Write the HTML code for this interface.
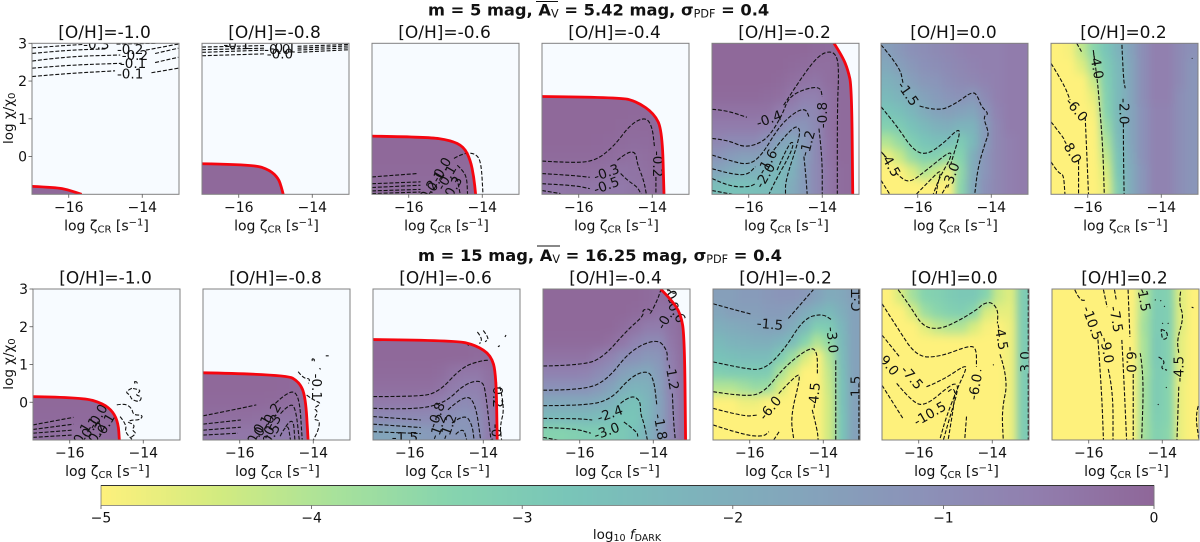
<!DOCTYPE html>
<html lang="en">
<head>
<meta charset="utf-8">
<title>fDARK maps</title>
<style>
html,body{margin:0;padding:0;background:#fff;width:1200px;height:542px;overflow:hidden}
svg{display:block}
text{font-family:"DejaVu Sans","Liberation Sans",sans-serif;fill:#111}
</style>
</head>
<body>
<svg id="figure" width="1200" height="542" viewBox="0 0 1200 542" xmlns="http://www.w3.org/2000/svg">
  <text x="428" y="15.5" font-size="16.3" font-weight="bold">m = 5 mag, <tspan>A</tspan><tspan font-size="11.2" dy="2" font-weight="normal">V</tspan><tspan dy="-2"> = 5.42 mag, σ</tspan><tspan font-size="11.2" dy="2" font-weight="normal">PDF</tspan><tspan dy="-2"> = 0.4</tspan></text>
  <line x1="536" x2="558" y1="1.5" y2="1.5" stroke="#111" stroke-width="1"/>
  <text x="418" y="261" font-size="16.3" font-weight="bold">m = 15 mag, <tspan>A</tspan><tspan font-size="11.2" dy="2" font-weight="normal">V</tspan><tspan dy="-2"> = 16.25 mag, σ</tspan><tspan font-size="11.2" dy="2" font-weight="normal">PDF</tspan><tspan dy="-2"> = 0.4</tspan></text>
  <line x1="537" x2="560" y1="246" y2="246" stroke="#111" stroke-width="1"/>
  <g id="panels"></g>
  <g id="colorbar"></g>
  <text x="627" y="539" font-size="13.5" text-anchor="middle">log<tspan font-size="9.5" dy="2">10</tspan><tspan dy="-2"> </tspan><tspan font-style="italic">f</tspan><tspan font-size="9.5" dy="2">DARK</tspan></text>
</svg>
<script>
const metallicityLabels = ["[O/H]=-1.0","[O/H]=-0.8","[O/H]=-0.6","[O/H]=-0.4","[O/H]=-0.2","[O/H]=0.0","[O/H]=0.2"];
const zetaTicks = [-16,-14];
const chiTicks = [0,1,2,3];
const colorbarTicks = [-5,-4,-3,-2,-1,0];

// log10 fDARK, rows from log chi = 2.8 down to -0.8, columns from log zeta = -16.83 to -13.17
const heatA1 = [
[-.05,-.05,-.05,-.05,-.05,-.05,-.05,-.05,-.05,-.05,-.05,-.05],
[-.05,-.05,-.05,-.05,-.05,-.05,-.05,-.05,-.05,-.05,-.05,-.05],
[-.05,-.05,-.05,-.05,-.05,-.05,-.05,-.05,-.05,-.05,-.05,-.05],
[-.05,-.05,-.05,-.05,-.05,-.05,-.05,-.05,-.05,-.05,-.05,-.05],
[-.05,-.05,-.05,-.05,-.05,-.05,-.05,-.05,-.05,-.05,-.05,-.05],
[-.05,-.05,-.05,-.05,-.05,-.05,-.05,-.05,-.05,-.05,-.05,-.05],
[-.05,-.05,-.05,-.05,-.05,-.05,-.05,-.05,-.05,-.05,-.05,-.05],
[-.05,-.05,-.05,-.05,-.05,-.05,-.05,-.05,-.05,-.05,-.05,-.05],
[-.05,-.05,-.05,-.05,-.05,-.05,-.05,-.05,-.05,-.05,-.05,-.05],
[-.05,-.05,-.05,-.05,-.05,-.05,-.05,-.05,-.05,-.05,-.05,-.05]];
const heatA2 = [
[-.05,-.05,-.05,-.05,-.05,-.05,-.05,-.05,-.05,-.05,-.05,-.05],
[-.05,-.05,-.05,-.05,-.05,-.05,-.05,-.05,-.05,-.05,-.05,-.05],
[-.05,-.05,-.05,-.05,-.05,-.05,-.05,-.05,-.05,-.05,-.05,-.05],
[-.05,-.05,-.05,-.05,-.05,-.05,-.05,-.05,-.05,-.05,-.05,-.05],
[-.05,-.05,-.05,-.05,-.05,-.05,-.05,-.05,-.05,-.05,-.05,-.05],
[-.05,-.05,-.05,-.05,-.05,-.05,-.05,-.05,-.05,-.05,-.05,-.05],
[-.05,-.05,-.05,-.05,-.05,-.05,-.05,-.05,-.05,-.05,-.05,-.05],
[-.05,-.05,-.05,-.05,-.05,-.05,-.05,-.05,-.05,-.05,-.05,-.05],
[-.05,-.05,-.05,-.05,-.05,-.05,-.05,-.05,-.05,-.05,-.05,-.05],
[-.06,-.06,-.06,-.06,-.06,-.06,-.06,-.06,-.05,-.05,-.05,-.05]];
const heatA3 = [
[-.05,-.05,-.05,-.05,-.05,-.05,-.05,-.05,-.05,-.05,-.05,-.05],
[-.05,-.05,-.05,-.05,-.05,-.05,-.05,-.05,-.05,-.05,-.05,-.05],
[-.05,-.05,-.05,-.05,-.05,-.05,-.05,-.05,-.05,-.05,-.05,-.05],
[-.05,-.05,-.05,-.05,-.05,-.05,-.05,-.05,-.05,-.05,-.05,-.05],
[-.05,-.05,-.05,-.05,-.05,-.05,-.05,-.05,-.05,-.05,-.05,-.05],
[-.05,-.05,-.05,-.05,-.05,-.05,-.05,-.05,-.05,-.05,-.05,-.05],
[-.05,-.05,-.05,-.05,-.05,-.05,-.05,-.05,-.05,-.05,-.05,-.05],
[-.05,-.05,-.05,-.05,-.05,-.05,-.05,-.05,-.05,-.05,-.05,-.05],
[-.07,-.07,-.07,-.07,-.07,-.07,-.07,-.07,-.06,-.05,-.05,-.05],
[-.12,-.12,-.12,-.12,-.12,-.12,-.12,-.1,-.07,-.05,-.05,-.05]];
const heatA4 = [
[-.05,-.05,-.05,-.05,-.05,-.05,-.05,-.05,-.05,-.05,-.05,-.05],
[-.05,-.05,-.05,-.05,-.05,-.05,-.05,-.05,-.05,-.05,-.05,-.05],
[-.05,-.05,-.05,-.05,-.05,-.05,-.05,-.05,-.05,-.05,-.05,-.05],
[-.05,-.05,-.05,-.05,-.05,-.05,-.05,-.05,-.05,-.05,-.05,-.05],
[-.05,-.05,-.05,-.05,-.05,-.05,-.05,-.06,-.06,-.05,-.05,-.05],
[-.05,-.05,-.05,-.05,-.05,-.05,-.07,-.1,-.08,-.05,-.05,-.05],
[-.05,-.05,-.05,-.05,-.06,-.08,-.12,-.16,-.14,-.06,-.05,-.05],
[-.1,-.1,-.1,-.1,-.11,-.15,-.2,-.24,-.2,-.08,-.05,-.05],
[-.2,-.2,-.2,-.2,-.22,-.28,-.34,-.32,-.24,-.1,-.05,-.05],
[-.4,-.4,-.36,-.36,-.4,-.44,-.44,-.36,-.26,-.12,-.05,-.05]];
const heatA5 = [
[-.05,-.05,-.05,-.05,-.05,-.05,-.05,-.05,-.1,-.15,-.1,-.1],
[-.05,-.05,-.05,-.05,-.05,-.05,-.1,-.15,-.2,-.2,-.1,-.1],
[-.05,-.05,-.05,-.05,-.05,-.1,-.2,-.3,-.35,-.2,-.1,-.1],
[-.1,-.1,-.1,-.1,-.15,-.2,-.4,-.6,-.6,-.3,-.1,-.1],
[-.3,-.3,-.3,-.3,-.3,-.5,-.7,-.9,-.8,-.3,-.1,-.1],
[-.5,-.5,-.5,-.5,-.6,-.9,-1.2,-1.2,-.9,-.3,-.1,-.1],
[-.8,-.9,-.9,-.9,-1.2,-1.6,-1.8,-1.4,-.9,-.35,-.1,-.1],
[-1.2,-1.4,-1.5,-1.5,-1.7,-2.1,-2.2,-1.5,-.9,-.35,-.1,-.1],
[-1.7,-1.9,-2.1,-2.1,-2.3,-2.4,-2.1,-1.4,-.9,-.4,-.15,-.1],
[-2.6,-2.7,-2.7,-2.6,-2.5,-2.4,-1.9,-1.4,-.9,-.4,-.15,-.1]];
const heatA6 = [
[-1.5,-1.3,-1.1,-1,-.9,-.8,-.7,-.6,-.6,-.6,-.5,-.5],
[-1.8,-1.5,-1.3,-1.1,-1,-.9,-.8,-.7,-.6,-.6,-.5,-.5],
[-2.1,-1.9,-1.5,-1.3,-1.2,-1,-.9,-.8,-.7,-.6,-.5,-.5],
[-2.4,-2.2,-1.9,-1.6,-1.4,-1.2,-1.1,-1.3,-.9,-.6,-.5,-.5],
[-2.8,-2.6,-2.3,-1.9,-1.6,-1.5,-1.6,-1.7,-1.2,-.7,-.5,-.5],
[-3.2,-3,-2.7,-2.4,-2.1,-2,-2.2,-2.2,-1.4,-.8,-.5,-.5],
[-4,-3.6,-3.1,-2.8,-2.6,-2.6,-3,-2.4,-1.4,-.8,-.6,-.5],
[-4.8,-4.3,-3.6,-3.2,-3.2,-3.5,-3.3,-2,-1.2,-.8,-.6,-.5],
[-5,-5,-4.6,-4,-4.3,-4.8,-3.5,-1.9,-1.2,-.8,-.6,-.5],
[-5,-5,-5,-5,-5,-5,-3.4,-1.8,-1.1,-.8,-.6,-.5]];
const heatA7 = [
[-5,-4.9,-4.2,-3.4,-2.8,-2.2,-1.6,-1,-.6,-.6,-.9,-1.1],
[-5,-5,-4.6,-3.8,-3,-2.4,-1.7,-1,-.6,-.6,-.9,-1.2],
[-5,-5,-5,-4.3,-3.1,-2.4,-1.7,-1,-.6,-.6,-.9,-1.2],
[-5,-5,-5,-4.7,-3.2,-2.4,-1.7,-1,-.6,-.6,-1,-1.2],
[-5,-5,-5,-4.9,-3.3,-2.4,-1.7,-1.1,-.7,-.7,-1,-1.2],
[-5,-5,-5,-5,-3.6,-2.4,-1.7,-1.1,-.7,-.7,-1,-1.2],
[-5,-5,-5,-5,-3.9,-2.5,-1.7,-1.1,-.7,-.7,-1,-1.2],
[-5,-5,-5,-5,-4.2,-2.7,-1.8,-1.1,-.7,-.7,-1,-1.2],
[-5,-5,-5,-5,-4.5,-2.8,-1.9,-1.2,-.7,-.7,-1,-1.2],
[-5,-5,-5,-5,-4.7,-3,-1.9,-1.2,-.7,-.7,-1,-1.2]];
const heatB1 = [
[-.05,-.05,-.05,-.05,-.05,-.05,-.05,-.05,-.05,-.05,-.05,-.05],
[-.05,-.05,-.05,-.05,-.05,-.05,-.05,-.05,-.05,-.05,-.05,-.05],
[-.05,-.05,-.05,-.05,-.05,-.05,-.05,-.05,-.05,-.05,-.05,-.05],
[-.05,-.05,-.05,-.05,-.05,-.05,-.05,-.05,-.05,-.05,-.05,-.05],
[-.05,-.05,-.05,-.05,-.05,-.05,-.05,-.05,-.05,-.05,-.05,-.05],
[-.05,-.05,-.05,-.05,-.05,-.05,-.05,-.05,-.05,-.05,-.05,-.05],
[-.05,-.05,-.05,-.05,-.05,-.05,-.05,-.05,-.05,-.05,-.05,-.05],
[-.05,-.05,-.05,-.05,-.05,-.05,-.05,-.05,-.05,-.05,-.05,-.05],
[-.08,-.08,-.08,-.08,-.08,-.08,-.06,-.05,-.05,-.05,-.05,-.05],
[-.2,-.2,-.2,-.2,-.18,-.12,-.08,-.05,-.05,-.05,-.05,-.05]];
const heatB2 = [
[-.05,-.05,-.05,-.05,-.05,-.05,-.05,-.05,-.05,-.05,-.05,-.05],
[-.05,-.05,-.05,-.05,-.05,-.05,-.05,-.05,-.05,-.05,-.05,-.05],
[-.05,-.05,-.05,-.05,-.05,-.05,-.05,-.05,-.05,-.05,-.05,-.05],
[-.05,-.05,-.05,-.05,-.05,-.05,-.05,-.05,-.05,-.05,-.05,-.05],
[-.05,-.05,-.05,-.05,-.05,-.05,-.05,-.05,-.05,-.05,-.05,-.05],
[-.05,-.05,-.05,-.05,-.05,-.05,-.05,-.05,-.05,-.05,-.05,-.05],
[-.05,-.05,-.05,-.05,-.05,-.05,-.06,-.08,-.07,-.05,-.05,-.05],
[-.08,-.08,-.08,-.08,-.08,-.1,-.14,-.18,-.12,-.05,-.05,-.05],
[-.2,-.2,-.2,-.2,-.22,-.28,-.34,-.34,-.18,-.05,-.05,-.05],
[-.42,-.42,-.4,-.4,-.42,-.46,-.52,-.44,-.22,-.05,-.05,-.05]];
const heatB3 = [
[-.05,-.05,-.05,-.05,-.05,-.05,-.05,-.05,-.05,-.05,-.05,-.05],
[-.05,-.05,-.05,-.05,-.05,-.05,-.05,-.05,-.05,-.05,-.05,-.05],
[-.05,-.05,-.05,-.05,-.05,-.05,-.05,-.05,-.05,-.05,-.05,-.05],
[-.05,-.05,-.05,-.05,-.05,-.05,-.05,-.05,-.05,-.05,-.05,-.05],
[-.05,-.05,-.05,-.05,-.05,-.05,-.05,-.05,-.1,-.1,-.05,-.05],
[-.1,-.1,-.1,-.1,-.1,-.15,-.3,-.4,-.4,-.25,-.1,-.1],
[-.2,-.2,-.2,-.2,-.2,-.3,-.5,-.6,-.6,-.3,-.1,-.1],
[-.45,-.45,-.45,-.45,-.5,-.6,-.8,-.9,-.8,-.4,-.15,-.1],
[-.9,-.9,-.9,-.9,-.9,-1,-1.1,-1.2,-1,-.5,-.15,-.1],
[-1.7,-1.7,-1.6,-1.5,-1.4,-1.4,-1.3,-1.3,-1.1,-.5,-.15,-.1]];
const heatB4 = [
[-.05,-.05,-.05,-.05,-.05,-.05,-.05,-.05,-.1,-.2,-.1,-.1],
[-.05,-.05,-.05,-.05,-.05,-.05,-.05,-.1,-.15,-.3,-.3,-.1],
[-.05,-.05,-.05,-.05,-.05,-.05,-.15,-.3,-.5,-.5,-.3,-.1],
[-.1,-.1,-.1,-.1,-.1,-.2,-.4,-.7,-.9,-.9,-.4,-.1],
[-.3,-.3,-.3,-.3,-.5,-.7,-1,-1.1,-1.3,-1.2,-.5,-.15],
[-.65,-.65,-.65,-.7,-.9,-1.1,-1.5,-1.7,-1.8,-1.4,-.6,-.15],
[-1.1,-1.1,-1.1,-1.1,-1.3,-1.6,-2,-2.2,-2.1,-1.5,-.7,-.2],
[-1.8,-1.8,-1.8,-1.8,-1.9,-2.1,-2.5,-2.7,-2.3,-1.6,-.8,-.2],
[-2.4,-2.4,-2.4,-2.4,-2.5,-2.6,-2.8,-2.8,-2.3,-1.6,-.8,-.2],
[-3.3,-3.3,-3.2,-3.1,-3.1,-3,-2.9,-2.7,-2.1,-1.5,-.8,-.2]];
const heatB5 = [
[-1.5,-1.5,-1.4,-1.4,-1.3,-1.2,-1.2,-1.3,-1.6,-1.9,-1.8,-1.5],
[-1.7,-1.5,-1.5,-1.5,-1.4,-1.4,-1.5,-1.9,-2.2,-2.4,-2,-1.6],
[-2,-1.9,-1.8,-1.7,-1.6,-1.6,-1.9,-2.4,-3.1,-3,-2.3,-1.6],
[-2.4,-2.2,-2.1,-2,-2,-2.2,-2.5,-3.3,-4,-3.5,-2.4,-1.6],
[-2.7,-2.6,-2.5,-2.5,-2.5,-3,-3.7,-4.5,-5,-4,-2.5,-1.6],
[-3.1,-3,-3,-3,-3,-3.9,-4.5,-5,-5,-4.2,-2.6,-1.6],
[-4,-4,-3.8,-3.6,-3.7,-4.5,-5,-5,-5,-4.3,-2.7,-1.6],
[-5,-5,-4.8,-4.8,-5,-5,-5,-5,-5,-4.4,-2.7,-1.6],
[-5,-5,-5,-5,-5,-5,-5,-5,-5,-4.4,-2.8,-1.6],
[-5,-5,-5,-5,-5,-5,-5,-5,-5,-4.4,-2.8,-1.6]];
const heatB6 = [
[-5,-4.5,-3.8,-3.3,-3.2,-3,-2.9,-2.9,-3.3,-4.3,-4.6,-3],
[-5,-5,-4.5,-3.7,-3.4,-3.2,-3.1,-3.4,-4.5,-4.7,-4.7,-3],
[-5,-5,-5,-4.6,-4.2,-4,-4,-4.5,-4.9,-5,-4.8,-3],
[-5,-5,-5,-5,-5,-5,-5,-5,-5,-5,-4.8,-3],
[-5,-5,-5,-5,-5,-5,-5,-5,-5,-5,-4.8,-3],
[-5,-5,-5,-5,-5,-5,-5,-5,-5,-5,-4.8,-3],
[-5,-5,-5,-5,-5,-5,-5,-5,-5,-5,-4.8,-3],
[-5,-5,-5,-5,-5,-5,-5,-5,-5,-5,-4.8,-3],
[-5,-5,-5,-5,-5,-5,-5,-5,-5,-5,-4.8,-3],
[-5,-5,-5,-5,-5,-5,-5,-5,-5,-5,-4.8,-3]];
const heatB7 = [
[-5,-5,-5,-5,-5,-5,-5,-4,-3.1,-3.2,-4.6,-5],
[-5,-5,-5,-5,-5,-5,-5,-3.9,-3,-3.1,-4.6,-5],
[-5,-5,-5,-5,-5,-5,-5,-3.8,-3,-3.1,-4.6,-5],
[-5,-5,-5,-5,-5,-5,-5,-3.9,-2.9,-3.2,-4.7,-5],
[-5,-5,-5,-5,-5,-5,-5,-3.9,-2.9,-3.2,-4.7,-5],
[-5,-5,-5,-5,-5,-5,-5,-3.9,-3,-3.2,-4.7,-5],
[-5,-5,-5,-5,-5,-5,-5,-3.8,-3,-3.3,-4.8,-5],
[-5,-5,-5,-5,-5,-5,-5,-3.8,-3,-3.3,-4.8,-5],
[-5,-5,-5,-5,-5,-5,-5,-3.8,-3.1,-3.3,-4.8,-5],
[-5,-5,-5,-5,-5,-5,-5,-3.8,-3.2,-3.4,-4.8,-5]];

// red f = 1 boundary as [log zeta, log chi]; panels without an entry have none
const boundaryA1 = [[-17,-.79],[-16.34,-.82],[-16.02,-.88],[-15.65,-1]];
const boundaryA2 = [[-17,-.19],[-15.6,-.21],[-15.15,-.36],[-14.92,-.58],[-14.84,-.81],[-14.79,-1]];
const boundaryA3 = [[-17,.54],[-15.5,.52],[-14.86,.43],[-14.5,.26],[-14.32,-.1],[-14.23,-.54],[-14.18,-1]];
const boundaryA4 = [[-17,1.59],[-14.86,1.57],[-14.41,1.45],[-13.95,1.14],[-13.73,.7],[-13.68,-1]];
const boundaryA5 = [[-13.68,3],[-13.45,2.65],[-13.3,2.29],[-13.2,1.85],[-13.17,-1]];
const boundaryB1 = [[-17,.15],[-15.66,.13],[-15.1,-.03],[-14.82,-.25],[-14.68,-.56],[-14.65,-1]];
const boundaryB2 = [[-17,.78],[-14.75,.74],[-14.38,.54],[-14.21,.15],[-14.14,-1]];
const boundaryB3 = [[-17,1.66],[-14.77,1.64],[-14.2,1.51],[-13.79,1.25],[-13.65,.76],[-13.62,-1]];
const boundaryB4 = [[-13.8,3],[-13.53,2.74],[-13.25,2.35],[-13.15,1.73],[-13.12,-1]];

// dashed contour levels as lists of [log zeta, log chi]
const contoursA1 = [
[[-17,2.12],[-16.06,2.2],[-14.74,2.27]],[[-13.75,2.22],[-13.02,2.34]],
[[-17,2.34],[-16.06,2.42],[-14.56,2.47]],[[-13.65,2.49],[-13.02,2.63]],
[[-17,2.53],[-16.06,2.65],[-14.6,2.69]],[[-13.65,2.73],[-13.02,2.87]],
[[-17,2.73],[-16.06,2.82],[-15,2.85]],[[-13.9,2.82],[-13.02,2.98]],
[[-17,2.88],[-16.1,2.94],[-15.6,2.97]],[[-14.7,2.98],[-13.6,3]]];
const contoursA2 = [
[[-17,2.67],[-15.3,2.72]],[[-14.4,2.76],[-13,2.83]],
[[-17,2.76],[-15.3,2.82]],[[-14.4,2.82],[-13,2.88]],
[[-17,2.83],[-15.3,2.87]],[[-14.4,2.87],[-13,2.93]],
[[-17,2.9],[-15.3,2.94]],[[-14.4,2.92],[-13,2.97]]];
const contoursA3 = [
[[-14.77,-.05],[-14.5,.1],[-14.18,.08],[-14.03,-.14],[-13.98,-1]],
[[-14.68,-.23],[-14.55,-.35],[-14.42,-.55],[-14.4,-1]],
[[-14.85,-.6],[-14.7,-.5],[-14.65,-.75],[-14.6,-1]],
[[-17,-.54],[-15.77,-.45]],[[-17,-.72],[-15.68,-.67]],[[-17,-.82],[-15.68,-.76]],[[-17,-.91],[-15.68,-.87]],[[-17,-.98],[-15.68,-.94]]];
const contoursA4 = [
[[-17,-.12],[-16.32,-.16],[-15.59,-.14],[-15.05,.26],[-14.59,.86],[-14.18,1.05],[-14,.79],[-13.94,.26]],[[-13.9,-.54],[-13.9,-1]],
[[-17,-.45],[-16.14,-.5],[-15.7,-.55]],[[-14.95,-.1],[-14.68,.12],[-14.45,.12],[-14.41,-.19],[-14.23,-.63],[-14.16,-1]],
[[-17,-.72],[-16.14,-.76],[-15.7,-.85]],[[-14.86,-.45],[-14.68,-.63],[-14.41,-.8],[-14.3,-1]],
[[-17,-.9],[-16.5,-.98]]];
const contoursA5 = [
[[-17,1.25],[-16.64,1.23],[-16.05,1.04]],[[-15.05,1.36],[-14.55,2.12],[-14.09,2.69],[-13.77,2.8],[-13.59,2.65],[-13.55,2.2],[-13.59,1.32],[-13.59,-1]],
[[-17,.48],[-16.55,.43],[-16.18,.26],[-15.82,.3],[-15.45,.52],[-15.09,1.1],[-14.91,1.58],[-14.45,1.8],[-14.05,1.85],[-14,1.58]],[[-14.09,.74],[-14,0],[-14,-1]],
[[-17,.04],[-16.55,-.1],[-16,-.23],[-15.64,.04],[-15.18,.79],[-14.73,1.19],[-14.45,1.27],[-14.36,1.05]],[[-14.5,0],[-14.45,-.45],[-14.41,-1]],
[[-17,-.32],[-16.55,-.45],[-16.05,-.5],[-15.82,-.27]],[[-15.32,.17],[-14.82,.79],[-14.6,.77],[-14.64,.43],[-15,-.63],[-15,-1]],
[[-17,-.58],[-16.55,-.79],[-16,-.81],[-15.82,-.72]],[[-15.23,-.36],[-14.91,.35],[-14.77,.39],[-14.86,.08],[-15.27,-.63],[-15.45,-1]],
[[-17,-.9],[-16.45,-1]]];
const contoursA6 = [
[[-17,2.96],[-16.49,2.38],[-16.4,1.94]],[[-15.95,1.34],[-15.45,1.19],[-14.95,1.41],[-14.5,1.74],[-14.36,1.58],[-14.27,1.32],[-14.06,1.13],[-14.23,1.06],[-14.06,.62],[-14.14,.44],[-14.36,-.27],[-14.45,-1]],
[[-17,1.32],[-16.58,.83],[-16.13,.17],[-15.76,.04],[-15.3,.35],[-14.9,.74],[-14.85,.61],[-15.04,0],[-15.1,-.2]],[[-15.2,-.75],[-15.35,-1]],
[[-17,.13],[-16.85,-.03]],[[-16.6,-.42],[-16.49,-.54],[-16.22,-.7],[-15.76,-.36],[-15.12,.15],[-15.08,0],[-15.4,-.54],[-15.58,-1]],
[[-17,-.63],[-16.76,-1]],
[[-16.04,-1],[-15.67,-.63],[-15.35,-.32],[-15.45,-.7],[-15.5,-1]]];
const contoursA7 = [
[[-16.3,3],[-16.17,2.78]],
[[-15.85,2.82],[-15.75,2.12],[-15.69,1.5],[-15.59,.26],[-15.55,-1]],
[[-15.07,2.96],[-15.03,2.03],[-14.98,1.81]],[[-15.03,.88],[-15.03,.17],[-15.01,-1]],
[[-17,2.47],[-16.66,1.94],[-16.48,1.5]],[[-16.07,1.05],[-16.03,.17],[-15.98,-1]],
[[-17,.92],[-16.75,.61],[-16.62,.43]],[[-16.25,-.1],[-16.25,-1]],
[[-17,-.14],[-16.8,-.45],[-16.66,-.45],[-16.62,-1]],
[[-13.17,2.6],[-13.15,2.6]]];
const contoursB1 = [
[[-17,-.6],[-15.9,-.4]],[[-17,-.72],[-15.9,-.58]],[[-17,-.82],[-15.95,-.74]],[[-17,-.93],[-15.95,-.87]],
[[-14.31,.37],[-14.5,.28],[-14.36,.19],[-14.31,.06],[-14.09,.01],[-14.04,.15],[-14.22,.19],[-14.04,.32],[-14.31,.37]],
[[-14.24,.55],[-14.18,.55],[-14.16,.5],[-14.22,.48],[-14.24,.55]],
[[-14.72,-.07],[-14.5,-.03],[-14.31,-.16],[-14.27,-.34],[-14,-.34],[-14.09,-.47],[-14.31,-.47],[-14.45,-.52],[-14.22,-.6],[-14.31,-.74],[-14.18,-.82],[-14.36,-.95]],
[[-14.63,-.38],[-14.45,-.6],[-14.5,-.78],[-14.31,-.98]]];
const contoursB2 = [
[[-17,-.36],[-15.97,-.16],[-15.55,-.07]],[[-15.03,-.03],[-14.66,.32],[-14.38,.2],[-14.3,-1]],
[[-14.89,-.3],[-14.61,0],[-14.47,-.21],[-14.38,-1]],
[[-14.75,-.65],[-14.55,-.35],[-14.5,-1]],[[-14.9,-.9],[-14.7,-.5],[-14.62,-1]],
[[-17,-.58],[-15.97,-.47]],[[-17,-.74],[-15.97,-.66]],[[-17,-.87],[-16.05,-.82]],
[[-14.41,.81],[-14.27,.63],[-14.09,.63],[-14.13,.5]],
[[-14.18,.19],[-14,.06],[-13.77,-.03],[-14,-.16],[-13.86,-.25],[-14,-.47],[-13.82,-.47],[-13.86,-.74],[-14,-1]],
[[-14.03,1.15],[-13.97,1.15],[-13.97,1.08],[-14.03,1.08],[-14.03,1.15]],
[[-13.66,1.23],[-13.58,1.23]],[[-13.83,.9],[-13.8,.87]]];
const contoursB3 = [
[[-17,.15],[-15.9,.15],[-15.24,.23],[-14.58,.94],[-14.02,1.11],[-13.83,1.11]],
[[-17,-.16],[-15.9,-.2],[-15.05,-.03],[-14.49,.5],[-14.02,.59],[-13.93,.23],[-13.79,-1]],
[[-17,-.38],[-15.7,-.47]],[[-14.96,-.2],[-14.49,.22],[-14.21,-.03],[-14.07,-1]],
[[-17,-.58],[-15.7,-.67]],[[-14.85,-.55],[-14.5,-.3],[-14.3,-.6],[-14.25,-1]],
[[-17,-.78],[-15.7,-.83]],[[-14.75,-.85],[-14.55,-.65],[-14.45,-1]],
[[-14.44,1.56],[-14.4,1.5]],[[-14.16,1.86],[-14.02,1.69],[-14.1,1.55]],[[-14,1.9],[-13.83,1.69],[-13.95,1.6]],[[-13.6,1.47],[-13.55,1.5]],[[-13.41,1.73],[-13.38,1.78]],
[[-13.55,.41],[-13.41,-.12],[-13.55,-.65],[-13.5,-1]]];
const contoursB4 = [
[[-17,.96],[-15.89,.98],[-15.35,1.2],[-14.71,1.91],[-14.25,2.3],[-14.3,2.45],[-14.07,2.48],[-14.1,2.3],[-13.89,2.7],[-13.8,2.96]],
[[-17,.32],[-15.89,.32],[-15.25,.59],[-14.62,1.38],[-13.89,1.69],[-13.62,1.38],[-13.62,1.11]],[[-13.48,.23],[-13.45,-.5],[-13.4,-1]],
[[-17,-.09],[-15.89,-.09],[-15.16,.06],[-14.62,.67],[-14.16,.85],[-13.98,.59],[-13.9,-.1]],
[[-17,-.43],[-16.07,-.43],[-15.66,-.47]],[[-14.89,-.03],[-14.62,.19],[-14.35,.06],[-14.35,-.3],[-14.25,-.56],[-14.16,-1]],
[[-17,-.67],[-16.16,-.69],[-15.7,-.82]],[[-14.8,-.52],[-14.44,-.78],[-14.42,-.91]],
[[-17,-.93],[-16.6,-1]],
[[-13.6,3],[-13.45,2.85],[-13.35,2.95]]];
const contoursB5 = [
[[-17,2.61],[-16.53,2.48],[-15.98,2.34]],[[-14.95,2.22],[-14.64,2.57],[-14.27,2.98]],
[[-17,1.07],[-16.16,.89],[-15.62,.85],[-15.07,1.38],[-14.53,2.22],[-14.03,2.35],[-13.75,2.17]],[[-13.66,1.11],[-13.66,-1]],
[[-17,.28],[-16.16,.15],[-15.62,.24],[-15.07,.93],[-14.35,1.47],[-14.16,1.33],[-14.16,.76]],[[-14.3,-.2],[-14.16,-.74],[-14.14,-1]],
[[-17,-.16],[-16.16,-.38],[-15.8,-.34]],[[-15.21,.23],[-14.71,.76],[-14.62,.67],[-14.89,-.38],[-14.8,-1]],
[[-17,-.6],[-16.16,-.87],[-15.62,-.91],[-15.48,-.78]],
[[-15.35,-1],[-15.2,-.78]],
[[-13.03,3],[-13.03,2.6]],[[-13.03,.5],[-13.03,-1]]];
const contoursB6 = [
[[-16.56,2.98],[-16.25,2.57],[-15.89,2],[-15.43,1.93],[-14.89,2.17],[-14.38,2.48],[-14.25,2.61],[-14.02,2.66],[-13.84,2.44],[-13.86,2.09]],[[-13.79,1.27],[-13.56,.6],[-13.74,-.19],[-13.7,-1]],
[[-17,2.61],[-16.6,2],[-16.06,1.2],[-15.43,1.2],[-14.61,1.51],[-14.43,1.42],[-14.43,.94]],[[-14.7,-.38],[-14.75,-1]],
[[-17,1.78],[-16.52,1.2]],[[-15.79,.41],[-15.34,.59],[-14.75,.98],[-14.7,.89],[-14.93,.41],[-15.25,-.38],[-15.43,-1]],
[[-16.6,.5],[-16.15,-.03],[-15.79,-.08],[-15.15,.45],[-14.97,.5],[-14.93,.32],[-15.15,-.38],[-15.33,-1]],
[[-17,.45],[-16.43,-.43]],[[-15.2,.28],[-15.06,.4],[-15,.2],[-15.2,-1]],
[[-13.02,3],[-13.02,1.33]],[[-13.02,.76],[-13.02,-1]],
[[-14.33,.85],[-14.3,.83]],[[-13.98,1],[-13.96,.98]]];
const contoursB7 = [
[[-16.38,2.98],[-16.25,2.7],[-16.06,2.7]],[[-15.75,1.66],[-15.65,.32],[-15.6,-1]],
[[-15.6,2.98],[-15.5,2.52]],[[-15.47,.88],[-15.34,.32],[-15.34,-1]],
[[-15.3,2.98],[-15.25,2.7]],[[-15.1,1.65],[-15.05,.75],[-14.97,-1]],
[[-14.93,2.98],[-14.88,1.73]],[[-14.79,.75],[-14.79,-1]],
[[-14.56,2.98],[-14.5,2.85]],[[-14.6,1.3],[-14.5,.75],[-14.56,-1]],
[[-13.5,2.93],[-13.55,2.62],[-13.41,2.27],[-13.6,1.65],[-13.55,1.3]],[[-13.55,.41],[-13.6,-1]],
[[-14.03,1.93],[-13.88,1.9],[-13.85,1.7],[-14,1.65],[-14.03,1.93]],
[[-14.1,1.2],[-13.9,1.1],[-14.05,.9],[-13.87,.85]],
[[-14.2,2.72],[-14.18,2.7]],[[-14.05,2.7],[-14.03,2.68]],[[-13.95,2.55],[-13.93,2.53]],[[-14,2.1],[-13.98,2.08]],[[-13.85,2.1],[-13.83,2.08]],[[-13.9,.4],[-13.88,.38]],[[-14.12,-.05],[-14.1,-.07]],
[[-13.02,-.1],[-13.1,-.35],[-13,-1]],[[-13.2,2.52],[-13.15,2.5]]];

// contour labels as [log zeta, log chi, text, rotation degrees]
const labelsA1 = [[-14.33,2.2,"-0.1",0],[-14.25,2.47,"-0.1",0],[-14.2,2.69,"-0.2",0],[-14.33,2.84,"-0.2",0],[-15.25,2.97,"-0.3",0]];
const labelsA2 = [[-14.88,2.73,"-0.0",0],[-14.8,2.88,"-0.1",0],[-14.95,2.85,"-0.0",0],[-16.06,2.97,"-0.1",0]];
const labelsA3 = [[-15.12,-.35,"-0.0",-60],[-15.3,-.7,"-0.1",-60],[-14.98,-.55,"-0.1",-60],[-15.5,-.95,"-0.2",-60],[-14.82,-.85,"-0.3",-60]];
const labelsA4 = [[-13.85,-.2,"-0.2",90],[-15.25,-.42,"-0.3",-20],[-15.25,-.76,"-0.5",-20]];
const labelsA5 = [[-15.45,1,"-0.4",-20],[-14,1.1,"-0.8",-90],[-14.41,.35,"-1.2",-75],[-15.5,-.14,"-1.6",-60],[-15.56,-.5,"-2.0",-60]];
const labelsA6 = [[-16.26,1.67,"-1.5",55],[-16.74,-.2,"-4.5",60],[-15.1,-.5,"-3.0",-70]];
const labelsA7 = [[-15.75,2.4,"-4.0",80],[-15,1.2,"-2.0",90],[-16.3,1.25,"-6.0",50],[-16.44,.15,"-8.0",60]];
const labelsB1 = [[-15.25,-.38,"-0.0",-60],[-15.48,-.72,"-0.1",-60],[-15.7,-.88,"-0.1",-60],[-15.05,-.62,"-0.1",-60],[-15.3,-.85,"-0.2",-60]];
const labelsB2 = [[-15.15,-.35,"-0.2",-60],[-15.42,-.68,"-0.1",-60],[-15.15,-.65,"-0.3",-60],[-15.6,-.9,"-0.0",-60],[-15.18,-.9,"-0.5",-60],[-13.91,.41,"-0.1",90]];
const labelsB3 = [[-15.28,-.34,"-0.8",-70],[-15.24,-.65,"-1.2",-70],[-14.96,-.65,"-1.2",-70],[-16.13,-.92,"-1.5",0],[-13.6,.2,"-0.2",90],[-13.65,-.92,"-0.8",90]];
const labelsB4 = [[-13.7,2.17,"-0.",-60],[-13.39,2.44,"-0.6",60],[-13.48,.67,"-1.2",80],[-13.8,-.65,"-1.8",80],[-15.18,-.3,"-2.4",-20],[-15.27,-.76,"-3.0",-20],[-13.5,2.85,"-0.",60]];
const labelsB5 = [[-15.45,2.07,"-1.5",5],[-13.75,1.65,"-3.0",85],[-14.25,.18,"-4.5",-85],[-15.45,-.15,"-6.0",-50],[-13.12,.42,"1.5",-90],[-13.1,2.7,"C:T",-90]];
const labelsB6 = [[-13.75,1.73,"-4.5",80],[-16.18,.66,"-7.5",50],[-16.84,1.03,"-9.0",50],[-15.7,-.3,"-10.5",-30],[-14.47,.41,"-6.0",-80],[-13.11,1.07,"3.0",-90]];
const labelsB7 = [[-15.9,2.1,"-10.5",70],[-15.5,1.38,"-9.0",80],[-15.25,2.2,"-7.5",80],[-14.84,1.13,"-6.0",90],[-14.5,2.75,"-1.5",80],[-13.55,.88,"-4.5",-90]];

const rowAHeat = [heatA1,heatA2,heatA3,heatA4,heatA5,heatA6,heatA7];
const rowBHeat = [heatB1,heatB2,heatB3,heatB4,heatB5,heatB6,heatB7];
const rowABoundary = [boundaryA1,boundaryA2,boundaryA3,boundaryA4,boundaryA5,null,null];
const rowBBoundary = [boundaryB1,boundaryB2,boundaryB3,boundaryB4,null,null,null];
const rowAContours = [contoursA1,contoursA2,contoursA3,contoursA4,contoursA5,contoursA6,contoursA7];
const rowBContours = [contoursB1,contoursB2,contoursB3,contoursB4,contoursB5,contoursB6,contoursB7];
const rowALabels = [labelsA1,labelsA2,labelsA3,labelsA4,labelsA5,labelsA6,labelsA7];
const rowBLabels = [labelsB1,labelsB2,labelsB3,labelsB4,labelsB5,labelsB6,labelsB7];

const viridis = [[68,1,84],[72,40,120],[62,73,137],[49,104,142],[38,130,142],[31,158,137],[53,183,121],[110,206,88],[181,222,43],[253,231,37]];
const NS = "http://www.w3.org/2000/svg";
const figure = document.getElementById("figure");

function make(tag, attrs, parent) {
  const el = document.createElementNS(NS, tag);
  for (const k in attrs) el.setAttribute(k, attrs[k]);
  if (parent) parent.appendChild(el);
  return el;
}
function colorFor(v) {
  const t = Math.min(1, Math.max(0, (v + 5) / 5));
  const u = (1 - t) * 9;
  const i = Math.min(8, Math.floor(u));
  const f = u - i;
  const rgb = [0,1,2].map(c => {
    const raw = viridis[i][c] + (viridis[i + 1][c] - viridis[i][c]) * f;
    return Math.round(raw * 0.6 + 255 * 0.4);
  });
  return "rgb(" + rgb.join(",") + ")";
}
function smoothPath(pts) {
  let d = "M" + pts[0][0].toFixed(2) + " " + pts[0][1].toFixed(2);
  if (pts.length < 3) {
    for (let i = 1; i < pts.length; i++) d += " L" + pts[i][0].toFixed(2) + " " + pts[i][1].toFixed(2);
    return d;
  }
  for (let i = 1; i < pts.length - 1; i++) {
    const mx = (pts[i][0] + pts[i + 1][0]) / 2;
    const my = (pts[i][1] + pts[i + 1][1]) / 2;
    d += " Q" + pts[i][0].toFixed(2) + " " + pts[i][1].toFixed(2) + " " + mx.toFixed(2) + " " + my.toFixed(2);
  }
  const last = pts[pts.length - 1];
  return d + " L" + last[0].toFixed(2) + " " + last[1].toFixed(2);
}
function addMathLabel(g, x, y) {
  const t = make("text", {x:x, y:y, "font-size":14, "text-anchor":"middle"}, g);
  
  
  t.appendChild(document.createTextNode("log ζ"));
  const a = make("tspan", {"font-size":10, dy:2}, t);
  a.textContent = "CR";
  const b = make("tspan", {dy:-2}, t);
  b.textContent = " [s";
  const c = make("tspan", {"font-size":10, dy:-5}, t);
  c.textContent = "−1";
  const e = make("tspan", {dy:5}, t);
  e.textContent = "]";
}

const defs = make("defs", {}, figure);
const blur = make("filter", {id:"smooth", filterUnits:"objectBoundingBox", x:"-10%", y:"-10%", width:"120%", height:"120%", "color-interpolation-filters":"sRGB"}, defs);
make("feGaussianBlur", {stdDeviation:"4 5"}, blur);

const panelsRoot = document.getElementById("panels");

function drawPanel(rowKey, rowIdx, col, x0, y0, W, H, heat, boundary, contours, labels) {
  const xs = v => x0 + (v + 17) / 4 * W;
  const ys = v => y0 + (3 - v) / 4 * H;
  const id = rowKey + col;
  const g = make("g", {}, panelsRoot);
  
  

  const bg = make("rect", {x:x0, y:y0, width:W, height:H, fill:"#f7fbff"}, g);
  
  

  const cp = make("clipPath", {id:"frame" + id}, defs);
  make("rect", {x:x0, y:y0, width:W, height:H}, cp);

  const frameClip = make("g", {"clip-path":"url(#frame" + id + ")"}, g);
  
  

  const maskGroup = make("g", {}, frameClip);
  
  
  if (boundary) {
    const mp = make("clipPath", {id:"mask" + id}, defs);
    const pts = boundary.map(p => [xs(p[0]), ys(p[1])]);
    let d = smoothPath(pts) + " L" + xs(-17) + " " + ys(-1);
    if (boundary[0][1] >= 3) d += " L" + xs(-17) + " " + ys(3);
    make("path", {d:d + " Z"}, mp);
    maskGroup.setAttribute("clip-path", "url(#mask" + id + ")");
  }
  const cells = make("g", {filter:"url(#smooth)"}, maskGroup);
  
  
  const rows = heat.length;
  const cols = heat[0].length;
  for (let r = 0; r < rows; r++) {
    for (let c = 0; c < cols; c++) {
      let cx = xs(-17 + 4 * c / cols);
      let cw = W / cols + 0.6;
      let cy = ys(3 - 4 * r / rows);
      let ch = H / rows + 0.6;
      if (c === 0) { cx -= 14; cw += 14; }
      if (c === cols - 1) cw += 14;
      if (r === 0) { cy -= 18; ch += 18; }
      if (r === rows - 1) ch += 18;
      const cell = make("rect", {x:cx, y:cy, width:cw, height:ch, fill:colorFor(heat[r][c])}, cells);
      
      
    }
  }

  contours.forEach(line => {
    const p = make("path", {d:smoothPath(line.map(q => [xs(q[0]), ys(q[1])])), fill:"none", stroke:"#111", "stroke-width":1.1, "stroke-dasharray":"4 1.8"}, frameClip);
    
    
  });
  labels.forEach(l => {
    const px = xs(l[0]);
    const py = ys(l[1]);
    const t = make("text", {x:px, y:py + 4.8, "font-size":13.5, "text-anchor":"middle", transform:"rotate(" + l[3] + " " + px + " " + py + ")"}, frameClip);
    
    
    t.textContent = l[2];
  });
  if (boundary) {
    const red = make("path", {d:smoothPath(boundary.map(q => [xs(q[0]), ys(q[1])])), fill:"none", stroke:"#f5050f", "stroke-width":2.8}, frameClip);
    
    
  }

  const frame = make("rect", {x:x0, y:y0, width:W, height:H, fill:"none", stroke:"#808080", "stroke-width":1}, g);
  
  

  const title = make("text", {x:x0 + W / 2 - 1, y:y0 - 5.5, "font-size":17, "text-anchor":"middle"}, g);
  
  
  title.textContent = metallicityLabels[col];

  zetaTicks.forEach(v => {
    const tk = make("line", {x1:xs(v), x2:xs(v), y1:y0 + H, y2:y0 + H + 3.5, stroke:"#555", "stroke-width":0.8}, g);
    
    
    const lb = make("text", {x:xs(v), y:y0 + H + 17.5, "font-size":14, "text-anchor":"middle"}, g);
    
    
    lb.textContent = "−" + Math.abs(v);
  });
  addMathLabel(g, x0 + W / 2 + 1, y0 + H + 36);

  if (col === 0) {
    chiTicks.forEach(v => {
      const tk = make("line", {x1:x0 - 3.5, x2:x0, y1:ys(v), y2:ys(v), stroke:"#555", "stroke-width":0.8}, g);
      
      
      const lb = make("text", {x:x0 - 5, y:ys(v) + 5, "font-size":14, "text-anchor":"end"}, g);
      
      
      lb.textContent = v;
    });
    const cyc = y0 + H / 2 - 0.5;
    const yt = make("text", {x:0, y:0, "font-size":13.5, "text-anchor":"middle", transform:"translate(13 " + cyc + ") rotate(-90)"}, g);
    
    
    yt.appendChild(document.createTextNode("log χ/χ"));
    const sub = make("tspan", {"font-size":10, dy:2}, yt);
    sub.textContent = "0";
  }
}

const rowAX = [32,202,372,542,712,881,1051];
const rowBX = [33,203,373,543,713,882,1052];
for (let i = 0; i < 7; i++) {
  drawPanel("a", 0, i, rowAX[i], 43.3, 147, 151, rowAHeat[i], rowABoundary[i], rowAContours[i], rowALabels[i]);
  drawPanel("b", 1, i, rowBX[i], 289, 147, 151, rowBHeat[i], rowBBoundary[i], rowBContours[i], rowBLabels[i]);
}

const cb = document.getElementById("colorbar");
const cbX0 = 101, cbX1 = 1154, cbY0 = 485.5, cbH = 20;
const cbScale = v => cbX0 + (v + 5) / 5 * (cbX1 - cbX0);
const cbSteps = 210;
for (let i = 0; i < cbSteps; i++) {
  const v = -5 + 5 * (i + 0.5) / cbSteps;
  const s = make("rect", {x:cbScale(-5 + 5 * i / cbSteps), y:cbY0, width:(cbX1 - cbX0) / cbSteps + 0.6, height:cbH, fill:colorFor(v), "shape-rendering":"crispEdges"}, cb);
  
  
}
const cbFrame = make("rect", {x:cbX0, y:cbY0, width:cbX1 - cbX0, height:cbH, fill:"none", stroke:"#7a7a7a", "stroke-width":0.8}, cb);


const cbTop = make("line", {x1:cbX0, x2:cbX1, y1:cbY0, y2:cbY0, stroke:"#333", "stroke-width":1}, cb);


colorbarTicks.forEach(v => {
  const tk = make("line", {x1:cbScale(v), x2:cbScale(v), y1:cbY0 + cbH, y2:cbY0 + cbH + 3.5, stroke:"#555", "stroke-width":0.8}, cb);
  
  
  const lb = make("text", {x:cbScale(v), y:522.5, "font-size":14, "text-anchor":"middle"}, cb);
  
  
  lb.textContent = v === 0 ? "0" : "−" + Math.abs(v);
});
</script>
</body>
</html>
